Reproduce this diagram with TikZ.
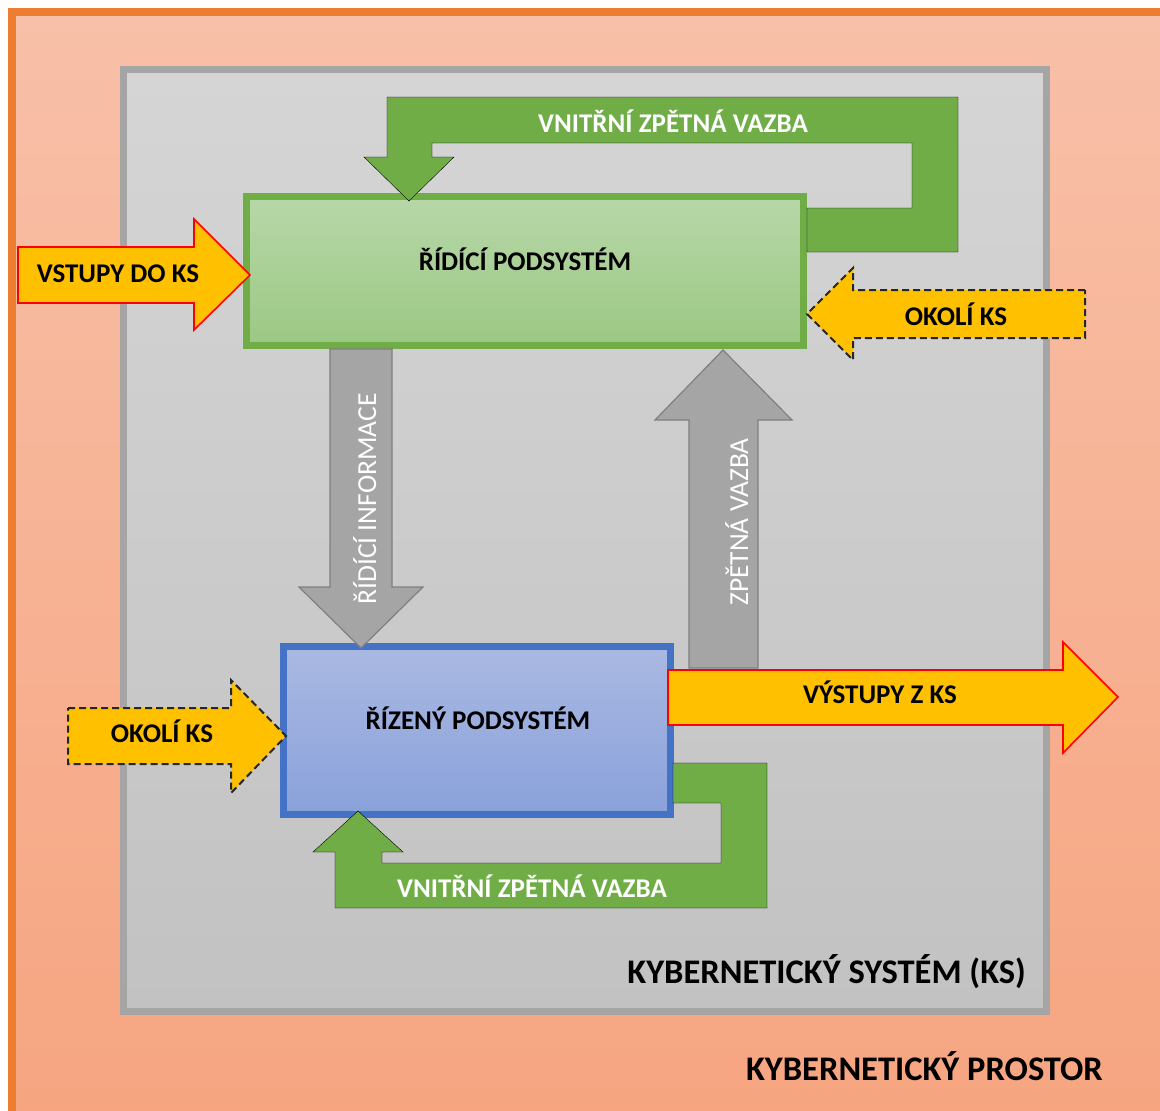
\documentclass[tikz,border=0pt]{standalone}
\usepackage{fontspec}
\setmainfont{Carlito}
\usepackage{tikz}
\usetikzlibrary{positioning}
\definecolor{spacetop}{HTML}{F8C0A8}
\definecolor{spacebottom}{HTML}{F6A47F}
\definecolor{spaceborder}{HTML}{ED7D31}
\definecolor{systop}{HTML}{D5D5D5}
\definecolor{sysbottom}{HTML}{C2C2C2}
\definecolor{sysborder}{HTML}{A5A5A5}
\definecolor{ctrltop}{HTML}{B7D7A8}
\definecolor{ctrlbottom}{HTML}{9BC884}
\definecolor{ksgreen}{HTML}{70AD47}
\definecolor{plantop}{HTML}{AAB9E2}
\definecolor{planbottom}{HTML}{89A1DA}
\definecolor{ksblue}{HTML}{4472C4}
\definecolor{ksgray}{HTML}{A5A5A5}
\definecolor{ksgraydark}{HTML}{7F7F7F}
\definecolor{ksyellow}{HTML}{FFC000}

\begin{document}
\begin{tikzpicture}[x=1pt, y=-1pt,
    subsystem/.style={rectangle, draw=#1, line width=7pt, inner sep=0pt},
    ksflow/.style={fill=ksgray, draw=ksgraydark, line width=1.2pt},
    ksloop/.style={fill=ksgreen},
    ksinout/.style={fill=ksyellow, draw=red, line width=1.6pt},
    ksenv/.style={fill=ksyellow, draw=black!85, line width=2pt, dash pattern=on 7pt off 4pt},
    boxtext/.style={font=\bfseries\fontsize{27}{32}\selectfont, anchor=base, inner sep=0pt},
    looptext/.style={boxtext, text=white},
    flowtext/.style={font=\fontsize{27.5}{32}\selectfont, text=white, rotate=90, anchor=base, inner sep=0pt},
    titletext/.style={font=\bfseries\fontsize{34.5}{40}\selectfont, anchor=base east, inner sep=0pt}
]
\useasboundingbox (0,0) rectangle (1160,1111);
\clip (0,0) rectangle (1160,1111);
\fill[white] (0,0) rectangle (1160,1111);

% Space and system frames
\node[rectangle, draw=spaceborder, line width=8pt, top color=spacetop, bottom color=spacebottom,
      minimum width=1188pt, minimum height=1138pt, inner sep=0pt] (prostor) at (606,581) {};
\node[subsystem=sysborder, top color=systop, bottom color=sysbottom,
      minimum width=923pt, minimum height=942pt] (ks) at (585,540.5) {};

% Two subsystems
\node[subsystem=ksgreen, top color=ctrltop, bottom color=ctrlbottom,
      minimum width=557pt, minimum height=149pt] (ridici) at (525,271) {};
\node[subsystem=ksblue, top color=plantop, bottom color=planbottom,
      minimum width=387pt, minimum height=168pt] (rizeny) at (477,730.5) {};

% Inner feedback loops
\draw[ksloop] (807,208) -- (912,208) -- (912,143) -- (432,143) -- (432,157) -- (454,157)
    -- (409,201) -- (364,157) -- (387,157) -- (387,97) -- (958,97) -- (958,252) -- (807,252) -- cycle;
\draw[ksloop] (673,763) -- (767,763) -- (767,908) -- (335,908) -- (335,852) -- (313,852)
    -- (358,811) -- (403,852) -- (382,852) -- (382,863) -- (721,863) -- (721,803) -- (673,803) -- cycle;

% Information flows between subsystems
\draw[ksflow] (330,349) -- (392,349) -- (392,587) -- (423,587) -- (361,648) -- (299,587) -- (330,587) -- cycle;
\draw[ksflow] (689,668) -- (689,420) -- (655,420) -- (723,350) -- (792,420) -- (758,420) -- (758,668) -- cycle;

% Inputs, outputs and surroundings
\draw[ksinout] (18,247) -- (194,247) -- (194,219) -- (250,275) -- (194,330) -- (194,303) -- (18,303) -- cycle;
\draw[ksinout] (668,670) -- (1063,670) -- (1063,642) -- (1118,697) -- (1063,753) -- (1063,725) -- (668,725) -- cycle;
\draw[ksenv] (1085,290) -- (853,290) -- (853,268) -- (807,314) -- (853,360) -- (853,338) -- (1085,338) -- cycle;
\draw[ksenv] (68,708) -- (231,708) -- (231,680) -- (286,736) -- (231,793) -- (231,764) -- (68,764) -- cycle;

% Labels
\node[boxtext] (ridici-t) at (525,270) {ŘÍDÍCÍ PODSYSTÉM};
\node[boxtext] (rizeny-t) at (478,729) {ŘÍZENÝ PODSYSTÉM};
\node[boxtext] (vstupy-t) at (118,282) {VSTUPY DO KS};
\node[boxtext] (vystupy-t) at (880,703) {VÝSTUPY Z KS};
\node[boxtext] (okoli-r) at (956,325) {OKOLÍ KS};
\node[boxtext] (okoli-l) at (162,742) {OKOLÍ KS};
\node[looptext] (vnitrni-top) at (673,132) {VNITŘNÍ ZPĚTNÁ VAZBA};
\node[looptext] (vnitrni-bot) at (532,897) {VNITŘNÍ ZPĚTNÁ VAZBA};
\node[flowtext] (ridici-info) at (376,499) {ŘÍDÍCÍ INFORMACE};
\node[flowtext] (zpetna) at (748,522) {ZPĚTNÁ VAZBA};
\node[titletext] (ks-t) at (1026,983) {KYBERNETICKÝ SYSTÉM (KS)};
\node[titletext] (prostor-t) at (1103,1080) {KYBERNETICKÝ PROSTOR};
\end{tikzpicture}
\end{document}
